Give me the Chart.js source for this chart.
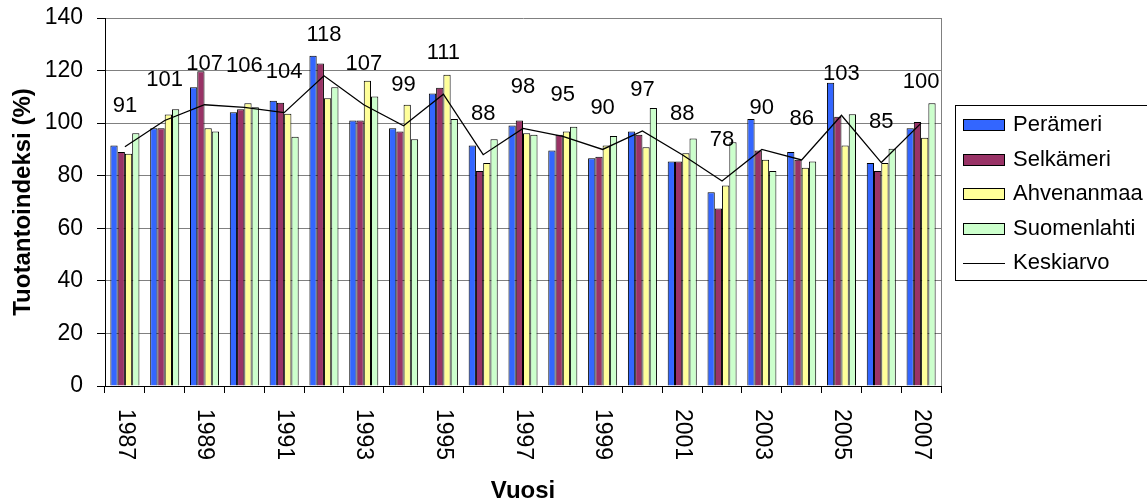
<!DOCTYPE html>
<html>
<head>
<meta charset="utf-8">
<title>Tuotantoindeksi 1987–2007</title>
<script src="https://cdn.jsdelivr.net/npm/chart.js@4"></script>
<style>
  html, body { margin: 0; padding: 0; background: #ffffff; }
  #wrap { width: 1147px; height: 504px; }
</style>
</head>
<body>
<div id="wrap"><canvas id="chart" width="1147" height="504"></canvas></div>
<script>
// Vuodet (x-akselin luokat)
const years = ['1987','1988','1989','1990','1991','1992','1993','1994','1995','1996','1997',
               '1998','1999','2000','2001','2002','2003','2004','2005','2006','2007'];

// Tuotantoindeksit alueittain (%)
const perameri    = [91.5, 98.1, 113.7, 104.1, 108.5, 125.6, 101.0, 98.1, 111.3, 91.5, 99.1,
                     89.6, 86.6, 96.8, 85.4, 73.7, 101.6, 89.0, 115.4, 84.8, 98.1];
const selkameri   = [89.0, 98.1, 119.7, 105.3, 107.8, 122.7, 101.0, 96.8, 113.5, 81.8, 101.0,
                     95.6, 87.2, 95.6, 85.4, 67.5, 89.6, 86.1, 102.4, 81.8, 100.4];
const ahvenanmaa  = [88.4, 103.3, 98.1, 107.6, 103.6, 109.5, 116.1, 107.0, 118.4, 84.8, 96.2,
                     96.8, 91.5, 90.8, 88.5, 76.3, 86.1, 83.0, 91.5, 84.8, 94.4];
const suomenlahti = [96.2, 105.3, 96.8, 106.0, 94.8, 113.7, 110.1, 93.9, 101.6, 93.9, 95.6,
                     98.6, 95.1, 105.8, 94.2, 92.7, 81.8, 85.4, 103.4, 90.3, 107.6];
// Alueiden keskiarvo, myös pisteiden yläpuolelle kirjoitettava arvo
const keskiarvo   = [91, 101, 107, 106, 104, 118, 107, 99, 111, 88, 98,
                     95, 90, 97, 88, 78, 90, 86, 103, 85, 100];

// y-akselin asteikko
const yTicks = [0, 20, 40, 60, 80, 100, 120, 140];

const FONT = 'Arial, "Liberation Sans", Helvetica, sans-serif';

// Oma piirto: arvotekstit, x-akselin vuosiluvut, kuva-alueen oikea reuna ja selite
const decorations = {
  id: 'decorations',
  afterDatasetsDraw(chart) {
    const ctx = chart.ctx;
    const meta = chart.getDatasetMeta(4);
    ctx.save();
    ctx.fillStyle = '#000';
    ctx.font = '22px ' + FONT;
    ctx.textAlign = 'center';
    ctx.textBaseline = 'middle';
    meta.data.forEach((pt, i) => {
      ctx.fillText(String(keskiarvo[i]), pt.x, pt.y - 41);
    });
    ctx.restore();
  },
  afterDraw(chart) {
    const ctx = chart.ctx;
    const area = chart.chartArea;
    const xs = chart.scales.x;

    // kuva-alueen oikea reuna
    ctx.save();
    ctx.strokeStyle = '#808080';
    ctx.lineWidth = 1;
    ctx.beginPath();
    ctx.moveTo(Math.round(area.right) + 0.5, area.top);
    ctx.lineTo(Math.round(area.right) + 0.5, area.bottom);
    ctx.stroke();
    ctx.restore();

    // vuosiluvut pystyyn, luettavissa ylhäältä alas
    ctx.save();
    ctx.fillStyle = '#000';
    ctx.font = '23px ' + FONT;
    ctx.textAlign = 'left';
    ctx.textBaseline = 'middle';
    xs.ticks.forEach((t, i) => {
      if (!t.label) return;
      const x = xs.getPixelForTick(i);
      ctx.save();
      ctx.translate(x, xs.top + 23);
      ctx.rotate(Math.PI / 2);
      ctx.fillText(t.label, 0, 0);
      ctx.restore();
    });
    ctx.restore();

    // selite
    const lx = area.right + 14, ly = 105, lh = 175;
    ctx.save();
    ctx.strokeStyle = '#000';
    ctx.lineWidth = 1;
    ctx.strokeRect(lx + 0.5, ly + 0.5, 220, lh);
    ctx.font = '22px ' + FONT;
    ctx.textBaseline = 'middle';
    ctx.textAlign = 'left';
    chart.data.datasets.forEach((ds, i) => {
      const cy = ly + 20 + i * 34.6;
      const sx = lx + 8;
      if (ds.type === 'line') {
        ctx.strokeStyle = ds.borderColor;
        ctx.beginPath();
        ctx.moveTo(sx, Math.round(cy) + 0.5);
        ctx.lineTo(sx + 42, Math.round(cy) + 0.5);
        ctx.stroke();
      } else {
        ctx.fillStyle = ds.backgroundColor;
        ctx.fillRect(sx, Math.round(cy) - 6, 42, 12);
        ctx.strokeStyle = '#000';
        ctx.strokeRect(sx + 0.5, Math.round(cy) - 5.5, 41, 11);
      }
      ctx.fillStyle = '#000';
      ctx.fillText(ds.label, sx + 50, cy);
    });
    ctx.restore();
  }
};

const barStyle = { borderColor: '#000000', borderWidth: 1, categoryPercentage: 0.73, barPercentage: 1.0, order: 1 };

new Chart(document.getElementById('chart'), {
  type: 'bar',
  data: {
    labels: years,
    datasets: [
      { label: 'Perämeri',    data: perameri,    backgroundColor: '#3366FF', ...barStyle },
      { label: 'Selkämeri',   data: selkameri,   backgroundColor: '#993366', ...barStyle },
      { label: 'Ahvenanmaa',  data: ahvenanmaa,  backgroundColor: '#FFFF99', ...barStyle },
      { label: 'Suomenlahti', data: suomenlahti, backgroundColor: '#CCFFCC', ...barStyle },
      { label: 'Keskiarvo', type: 'line', data: keskiarvo, borderColor: '#000000', borderWidth: 1.3,
        pointRadius: 0, tension: 0, fill: false, order: 0 }
    ]
  },
  options: {
    responsive: false,
    animation: false,
    devicePixelRatio: 1,
    layout: { padding: { top: 18, right: 206, left: 0, bottom: 0 } },
    plugins: { legend: { display: false }, tooltip: { enabled: false } },
    scales: {
      x: {
        offset: true,
        grid: { display: true, offset: true, drawOnChartArea: false, drawTicks: true,
                tickLength: 7, tickColor: '#000000', tickWidth: 1 },
        border: { color: '#000000', width: 1 },
        ticks: {
          autoSkip: false, maxRotation: 0, minRotation: 0, color: 'rgba(0,0,0,0)',
          font: { family: FONT, size: 23 },
          callback: (v, i) => (i % 2 === 0 ? years[i] : '')
        },
        title: { display: true, text: 'Vuosi', color: '#000',
                 font: { family: FONT, size: 24, weight: 'bold', lineHeight: 1.08 },
                 padding: { top: 0, bottom: 0 } },
        afterFit(scale) { scale.height = 118; scale.paddingLeft = 0; scale.paddingRight = 0; }
      },
      y: {
        min: 0, max: 140,
        afterBuildTicks(scale) { scale.ticks = yTicks.map(v => ({ value: v })); },
        grid: { color: ctx => (ctx.tick && ctx.tick.value === 0 ? '#000000' : '#808080'),
                tickColor: '#000000', tickLength: 8, lineWidth: 1 },
        border: { color: '#000000', width: 1 },
        ticks: { color: '#000', padding: 14, font: { family: FONT, size: 23 } },
        title: { display: true, text: 'Tuotantoindeksi (%)', color: '#000',
                 font: { family: FONT, size: 24, weight: 'bold', lineHeight: 1.2 },
                 padding: { top: 9, bottom: 0 } },
        afterFit(scale) { scale.width = 105; scale.paddingTop = 0; scale.paddingBottom = 0; }
      }
    }
  },
  plugins: [decorations]
});
</script>
</body>
</html>
